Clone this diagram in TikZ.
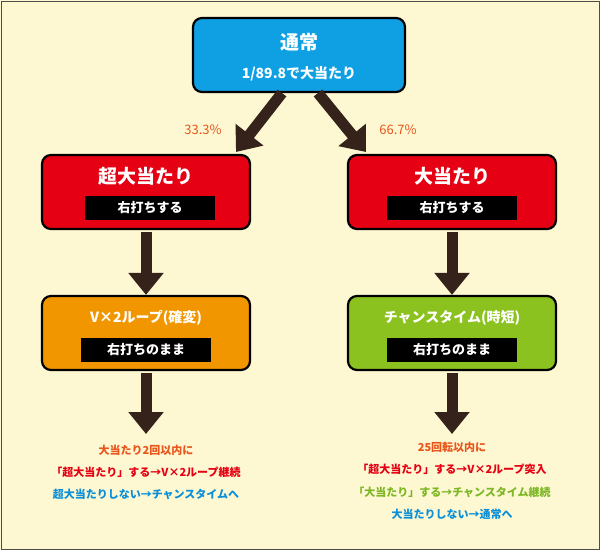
\documentclass[tikz,border=0pt]{standalone}
\usepackage{fontspec}
\setmainfont{Noto Sans CJK JP}
\usetikzlibrary{arrows.meta}
\definecolor{cream}{HTML}{FDF7D2}
\definecolor{boxblue}{HTML}{0FA0E3}
\definecolor{boxred}{HTML}{E50013}
\definecolor{boxorange}{HTML}{F29600}
\definecolor{boxgreen}{HTML}{8CC21F}
\definecolor{arrowbrown}{HTML}{35231B}
\definecolor{txtorange}{HTML}{E9561C}
\definecolor{txtred}{HTML}{E50013}
\definecolor{txtblue}{HTML}{0A8FD8}
\definecolor{txtgreen}{HTML}{7DB824}
\tikzset{
  state/.style={draw=black,line width=2.2pt,rounded corners=9pt,minimum width=208pt,minimum height=74pt},
  title/.style={text=white,font=\bfseries\fontsize{19}{22}\selectfont},
  sub/.style={text=white,font=\bfseries\fontsize{14}{16}\selectfont},
  tag/.style={fill=black,text=white,font=\bfseries\fontsize{13}{15}\selectfont,minimum width=130pt,minimum height=24pt,inner sep=0pt},
  flow/.style={arrowbrown,line width=11pt,-{Triangle[length=22pt,width=34pt]}},
  note/.style={font=\bfseries\fontsize{11}{13}\selectfont,inner sep=0pt},
  pct/.style={txtorange,font=\fontsize{13}{15}\selectfont}
}
\begin{document}
\begin{tikzpicture}[x=1pt,y=-1pt]
\useasboundingbox (0,0) rectangle (600,550);
\fill[cream] (0,0) rectangle (600,550);
\draw[black!70,line width=1pt] (1,1) rectangle (599,549);
% top box
\node[state,fill=boxblue,minimum width=212pt] (top) at (299,55) {};
\node[title] (toptitle) at (299,42) {通常};
\node[sub] (topsub) at (299,74) {1/89.8で大当たり};
% second row
\node[state,fill=boxred] (sbig) at (146,192) {};
\node[title] (sbigtitle) at (146,176) {超大当たり};
\node[tag] (sbigtag) at (150,208) {右打ちする};
\node[state,fill=boxred] (big) at (452,192) {};
\node[title] (bigtitle) at (452,176) {大当たり};
\node[tag] (bigtag) at (452,208) {右打ちする};
% third row
\node[state,fill=boxorange] (loop) at (146,333) {};
\node[sub] (looptitle) at (146,318) {V×2ループ(確変)};
\node[tag] (looptag) at (146,350) {右打ちのまま};
\node[state,fill=boxgreen] (chance) at (452,333) {};
\node[sub] (chancetitle) at (452,318) {チャンスタイム(時短)};
\node[tag] (chancetag) at (452,350) {右打ちのまま};
% arrows
\coordinate (tl) at (282,93);
\coordinate (tr) at (318,93);
\draw[flow] (tl) -- (236,152);
\draw[flow] (tr) -- (366,152);
\node[pct] (pleft) at (203,130) {33.3\%};
\node[pct] (pright) at (398,130) {66.7\%};
\draw[flow] (sbig.south) ++(0,2) -- (loop.north);
\draw[flow] (big.south) ++(0,2) -- (chance.north);
\coordinate (lend) at (146,434);
\coordinate (rend) at (452,434);
\draw[flow] (loop.south) ++(0,2) -- (lend);
\draw[flow] (chance.south) ++(0,2) -- (rend);
% notes
\node[note,txtorange] (l1) at (146,450) {大当たり2回以内に};
\node[note,txtred] (l2) at (146,472) {「超大当たり」する→V×2ループ継続};
\node[note,txtblue] (l3) at (146,494) {超大当たりしない→チャンスタイムへ};
\node[note,txtorange] (r1) at (452,447) {25回転以内に};
\node[note,txtred] (r2) at (452,469) {「超大当たり」する→V×2ループ突入};
\node[note,txtgreen] (r3) at (452,492) {「大当たり」する→チャンスタイム継続};
\node[note,txtblue] (r4) at (452,514) {大当たりしない→通常へ};
\end{tikzpicture}
\end{document}
